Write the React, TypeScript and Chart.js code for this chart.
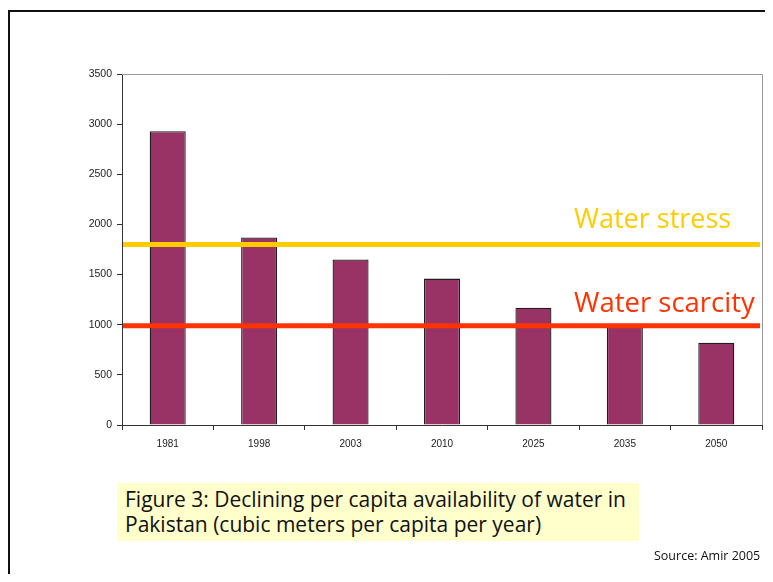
import React, { useEffect, useRef } from "react";
import { Chart, registerables } from "chart.js";

Chart.register(...registerables);

const years = ["1981", "1998", "2003", "2010", "2025", "2035", "2050"];
const availability = [2930, 1870, 1650, 1460, 1170, 1010, 820];
const yTicks = [0, 500, 1000, 1500, 2000, 2500, 3000, 3500];
const thresholdNames = ["Water stress", "Water scarcity"];
const thresholdValues = [1800, 990];
const thresholdColors = ["#FFCC00", "#FF3300"];
const captionLines = [
  "Figure 3: Declining per capita availability of water in",
  "Pakistan (cubic meters per capita per year)",
];
const sourceText = "Source: Amir 2005";

const LABEL_FONT = '"Comic Sans MS", "Open Sans", sans-serif';

const overlayPlugin = {
  id: "overlay",
  beforeDatasetsDraw(chart: any) {
    const { ctx, chartArea } = chart;
    ctx.save();
    ctx.strokeStyle = "#9a9a9a";
    ctx.lineWidth = 1;
    ctx.beginPath();
    ctx.moveTo(chartArea.left, chartArea.top + 0.5);
    ctx.lineTo(chartArea.right + 0.5, chartArea.top + 0.5);
    ctx.lineTo(chartArea.right + 0.5, chartArea.bottom);
    ctx.stroke();
    ctx.restore();
  },
  afterDatasetsDraw(chart: any) {
    const { ctx, chartArea, scales } = chart;
    ctx.save();
    thresholdValues.forEach((v, i) => {
      const y = scales.y.getPixelForValue(v);
      ctx.strokeStyle = thresholdColors[i];
      ctx.lineWidth = 5;
      ctx.beginPath();
      ctx.moveTo(chartArea.left + 1, y);
      ctx.lineTo(chartArea.right - 2, y);
      ctx.stroke();
      ctx.fillStyle = thresholdColors[i];
      ctx.font = `${i === 0 ? 27 : 27.5}px ${LABEL_FONT}`;
      ctx.textAlign = "left";
      ctx.textBaseline = "alphabetic";
      ctx.fillText(thresholdNames[i], 574, y - (i === 0 ? 16 : 14));
    });
    ctx.restore();
  },
};

export default function App() {
  const canvasRef = useRef<HTMLCanvasElement | null>(null);

  useEffect(() => {
    if (!canvasRef.current) return;
    const chart = new Chart(canvasRef.current, {
      type: "bar",
      data: {
        labels: years,
        datasets: [
          {
            data: availability,
            backgroundColor: "#993366",
            borderColor: "#1e1e1e",
            borderWidth: 1.3,
            barPercentage: 0.394,
            categoryPercentage: 1,
          },
        ],
      },
      options: {
        animation: false,
        responsive: false,
        maintainAspectRatio: false,
        layout: { padding: { left: 72, top: 74, right: 11, bottom: 117 } },
        plugins: { legend: { display: false }, tooltip: { enabled: false } },
        scales: {
          x: {
            offset: true,
            afterFit: (s: any) => {
              s.height = 40;
            },
            grid: {
              display: true,
              offset: true,
              drawOnChartArea: false,
              drawTicks: true,
              tickLength: 5,
              color: "#333",
            },
            border: { display: true, color: "#333", width: 1 },
            ticks: {
              color: "#222",
              padding: 8,
              font: { family: '"Liberation Sans", Arial, sans-serif', size: 10 },
            },
          },
          y: {
            min: yTicks[0],
            max: yTicks[yTicks.length - 1],
            afterFit: (s: any) => {
              s.width = 50;
            },
            afterBuildTicks: (s: any) => {
              s.ticks = yTicks.map((v) => ({ value: v }));
            },
            grid: {
              display: true,
              drawOnChartArea: false,
              drawTicks: true,
              tickLength: 5,
              color: "#333",
            },
            border: { display: true, color: "#333", width: 1 },
            ticks: {
              color: "#222",
              padding: 5,
              callback: (v: any) => String(v),
              font: { family: '"Liberation Sans", Arial, sans-serif', size: 10.5 },
            },
          },
        },
      },
      plugins: [overlayPlugin],
    });
    return () => chart.destroy();
  }, []);

  return (
    <div style={{ position: "relative", width: 757, height: 566 }}>
      <div
        style={{
          position: "absolute",
          left: 0,
          top: 2,
          right: -8,
          bottom: -8,
          borderTop: "2px solid #111",
          borderLeft: "2px solid #111",
        }}
      />
      <canvas
        ref={canvasRef}
        width={773}
        height={582}
        style={{ position: "absolute", left: -8, top: -8, width: 773, height: 582 }}
      />
      <div
        style={{
          position: "absolute",
          left: 109,
          top: 475,
          width: 522,
          height: 58,
          background: "#FFFFCC",
          boxSizing: "border-box",
          padding: "4px 0 0 8px",
          fontFamily: LABEL_FONT,
          fontSize: 21,
          lineHeight: "25px",
          color: "#111",
          whiteSpace: "nowrap",
        }}
      >
        {captionLines.map((l, i) => (
          <div key={i}>{l}</div>
        ))}
      </div>
      <div
        style={{
          position: "absolute",
          left: 646,
          top: 539,
          fontFamily: LABEL_FONT,
          fontSize: 12.5,
          color: "#111",
          whiteSpace: "nowrap",
        }}
      >
        {sourceText}
      </div>
    </div>
  );
}
